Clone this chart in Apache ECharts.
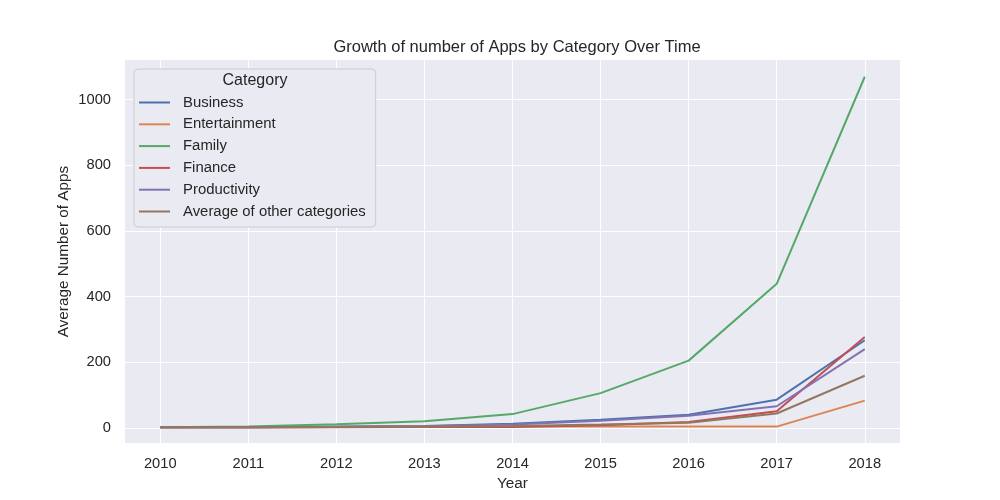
<!DOCTYPE html>
<html>
<head>
<meta charset="utf-8">
<script src="https://cdn.jsdelivr.net/npm/echarts@6/dist/echarts.min.js"></script>
<style>
    html, body { margin: 0; padding: 0; background: #fff; }
    #myChart { width: 1000px; height: 500px; }
</style>
</head>
<body>
<div id="myChart"></div>
<script>
    // data
    var years = [2010, 2011, 2012, 2013, 2014, 2015, 2016, 2017, 2018];
    var business = [2, 2, 4, 6, 13, 25, 40, 86, 267];
    var entertainment = [2, 2, 3, 4, 4, 4, 4, 4, 83];
    var family = [2, 4, 11, 20, 42, 106, 205, 439, 1070];
    var finance = [2, 2, 2, 3, 3, 8, 18, 51, 277];
    var productivity = [2, 2, 3, 5, 10, 22, 37, 66, 240];
    var otherAvg = [2, 2, 3, 4, 6, 10, 16, 44, 159];
    var yTicks = [0, 200, 400, 600, 800, 1000];

    var fontFam = "'Liberation Sans', Arial, sans-serif";

    function pairs(vals) {
        return vals.map(function (v, i) { return [years[i], v]; });
    }

    function line(name, color, vals) {
        return {
            name: name,
            type: 'line',
            symbol: 'none',
            data: pairs(vals),
            lineStyle: {width: 2, color: color},
            itemStyle: {color: color}
        };
    }

    function plain(v) {
        return String(Math.round(v));
    }

    var myChart = echarts.init(document.getElementById('myChart'));
    myChart.setOption({
        animation: false,
        title: {
            text: 'Growth of number of Apps by Category Over Time',
            left: 512,
            textAlign: 'center',
            top: 34,
            textStyle: {fontFamily: fontFam, fontSize: 16.5, fontWeight: 'normal', color: '#262626'}
        },
        graphic: [{
            type: 'text',
            x: 255,
            y: 81,
            z: 100,
            style: {
                text: 'Category',
                font: '16px ' + fontFam,
                fill: '#262626',
                align: 'center',
                verticalAlign: 'middle'
            }
        }],
        legend: {
            orient: 'vertical',
            left: 134,
            top: 69,
            padding: [26, 10, 8, 4],
            itemWidth: 31,
            itemHeight: 14,
            itemGap: 6.8,
            itemStyle: {opacity: 0},
            backgroundColor: '#eaeaf2',
            borderColor: '#cccccc',
            borderWidth: 1,
            borderRadius: 4,
            textStyle: {fontFamily: fontFam, fontSize: 14.9, color: '#262626', lineHeight: 14, padding: [0, 0, 0, 8]}
        },
        grid: {
            left: 125,
            right: 100,
            top: 60,
            bottom: 57,
            show: true,
            backgroundColor: '#eaeaf2',
            borderWidth: 0
        },
        xAxis: {
            type: 'value',
            min: 2009.6,
            max: 2018.4,
            name: 'Year',
            nameLocation: 'middle',
            nameGap: 33,
            nameTextStyle: {fontFamily: fontFam, fontSize: 15.3, color: '#262626'},
            axisLine: {show: false},
            axisTick: {show: false, customValues: years},
            axisLabel: {customValues: years, formatter: plain, margin: 13, fontFamily: fontFam, fontSize: 14.7, color: '#262626'},
            splitLine: {show: true, lineStyle: {color: '#ffffff', width: 1}}
        },
        yAxis: {
            type: 'value',
            min: -46,
            max: 1121,
            name: 'Average Number of Apps',
            nameLocation: 'middle',
            nameGap: 54,
            nameMoveOverlap: false,
            nameTextStyle: {fontFamily: fontFam, fontSize: 15.3, color: '#262626'},
            axisLine: {show: false},
            axisTick: {show: false, customValues: yTicks},
            axisLabel: {customValues: yTicks, formatter: plain, margin: 14, fontFamily: fontFam, fontSize: 14.7, color: '#262626'},
            splitLine: {show: true, lineStyle: {color: '#ffffff', width: 1}}
        },
        series: [
            line('Business', '#4c72b0', business),
            line('Entertainment', '#dd8452', entertainment),
            line('Family', '#55a868', family),
            line('Finance', '#c44e52', finance),
            line('Productivity', '#8172b3', productivity),
            line('Average of other categories', '#937860', otherAvg)
        ]
    });
</script>
</body>
</html>
